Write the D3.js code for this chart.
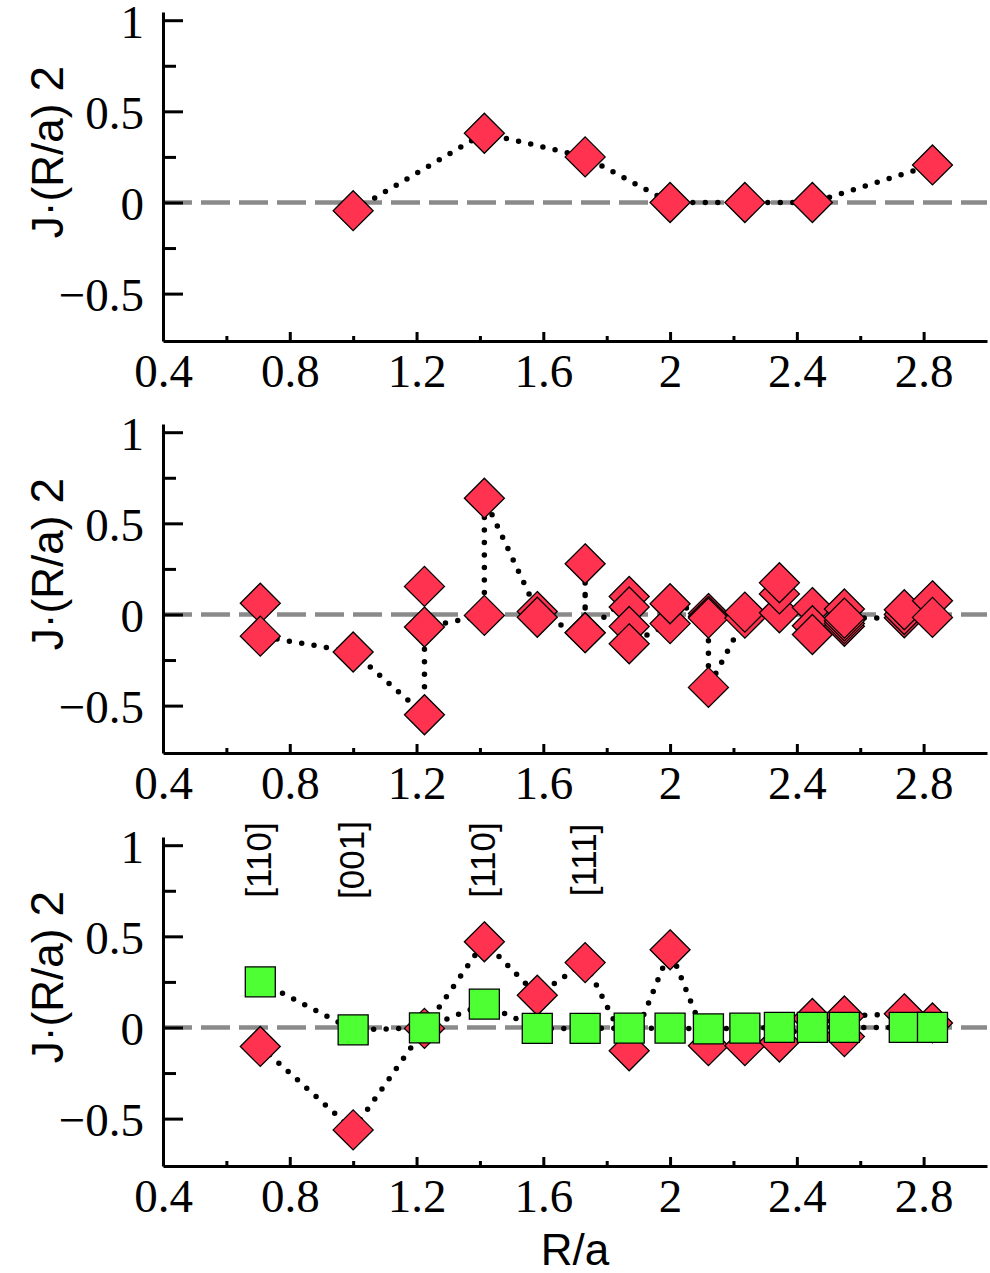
<!DOCTYPE html>
<html>
<head>
<meta charset="utf-8">
<script src="https://d3js.org/d3.v7.min.js"></script>
<style>
  body { margin: 0; background: #fff; }
</style>
</head>
<body>
<svg id="chart" width="990" height="1273"></svg>
<script>
// axis ticks
var xTicks = [0.4, 0.8, 1.2, 1.6, 2, 2.4, 2.8]
var xMinorTicks = [0.6, 1.0, 1.4, 1.8, 2.2, 2.6]
var yTicks = [-0.5, 0, 0.5, 1]
var yMinorTicks = [-0.25, 0.25, 0.75]

// top panel
var topR = [1, 1.414, 1.732, 2, 2.236, 2.449, 2.828]
var topJ = [-0.045, 0.38, 0.25, 0, 0, 0, 0.206]

// middle panel, in the order the dotted line runs through them
var midR = [0.707, 0.707, 1, 1.225, 1.225, 1.225, 1.414, 1.414, 1.581, 1.581,
            1.732, 1.732, 1.732, 1.871, 1.871, 1.871, 1.871, 2, 2,
            2.121, 2.121, 2.121, 2.121, 2.236, 2.236, 2.345, 2.345, 2.345,
            2.449, 2.449, 2.449, 2.55, 2.55, 2.55, 2.55, 2.55,
            2.739, 2.739, 2.739, 2.828, 2.828]
var midJ = [0.062, -0.119, -0.206, -0.55, 0.154, -0.069, -0.005, 0.638, 0.016, -0.015,
            -0.1, 0.278, -0.1, 0.099, 0.041, -0.066, -0.161, -0.05, 0.059,
            0.005, -0.01, -0.02, -0.4, -0.02, 0.013, 0.009, 0.113, 0.174,
            0.038, -0.062, -0.11, 0.03, -0.065, -0.05, -0.035, -0.02,
            -0.018, 0.0, 0.026, 0.075, -0.016]

// bottom panel
var redR = [0.707, 1, 1.225, 1.414, 1.581, 1.732, 1.871, 2, 2.121, 2.236, 2.345, 2.449, 2.55, 2.55, 2.739, 2.828]
var redJ = [-0.104, -0.562, -0.005, 0.47, 0.177, 0.356, -0.128, 0.426, -0.1, -0.1, -0.08, 0.049, -0.05, 0.063, 0.075, 0.025]
var greenR = [0.707, 1, 1.225, 1.414, 1.581, 1.732, 1.871, 2, 2.121, 2.236, 2.345, 2.449, 2.55, 2.739, 2.828]
var greenJ = [0.25, -0.013, -0.002, 0.128, -0.005, -0.005, -0.004, -0.004, -0.008, -0.004, 0, 0, 0, 0, 0]

var dirLabels = ["[110]", "[001]", "[110]", "[111]"]
var dirR = [0.707, 1, 1.414, 1.732]

var svg = d3.select("#chart")
svg.append("rect").attr("width", 990).attr("height", 1273).attr("fill", "#fff")

var x = d3.scaleLinear().domain([0.4, 3.0]).range([163, 987])
var panelOffsets = [0, 412, 825]

var serif = "'Liberation Serif', 'Times New Roman', serif"
var sans = "'Liberation Sans', Arial, sans-serif"

var diamond = {
  draw: function (ctx, size) {
    var r = Math.sqrt(size / 2)
    ctx.moveTo(0, -r); ctx.lineTo(r, 0); ctx.lineTo(0, r); ctx.lineTo(-r, 0); ctx.closePath()
  }
}

function fmt(d) { return String(d).replace("-", "\u2212") }

function makePanel(off) {
  var y = d3.scaleLinear().domain([-0.76, 1.045]).range([341 + off, 12 + off])
  var g = svg.append("g")

  // zero line
  g.append("line")
    .attr("x1", x(0.4)).attr("x2", x(3.0))
    .attr("y1", y(0)).attr("y2", y(0))
    .attr("stroke", "#8a8a8a").attr("stroke-width", 4.5)
    .attr("stroke-dasharray", "29,9")

  var ay = g.append("g").attr("transform", "translate(" + x(0.4) + ",0)")
    .call(d3.axisLeft(y).tickValues(yTicks).tickSizeInner(-20).tickSizeOuter(0).tickPadding(19).tickFormat(fmt))
  ay.selectAll("text").attr("font-family", serif).attr("font-size", 47).attr("fill", "#000").attr("dy", "0.36em")
  g.append("g").attr("transform", "translate(" + x(0.4) + ",0)")
    .call(d3.axisLeft(y).tickValues(yMinorTicks).tickSizeInner(-13).tickSizeOuter(0).tickFormat(""))
    .select(".domain").remove()

  var ax = g.append("g").attr("transform", "translate(0," + y.range()[0] + ")")
    .call(d3.axisBottom(x).tickValues(xTicks).tickSizeInner(-9).tickSizeOuter(0).tickPadding(12.5).tickFormat(fmt))
  ax.selectAll("text").attr("font-family", serif).attr("font-size", 47).attr("fill", "#000")
  g.append("g").attr("transform", "translate(0," + y.range()[0] + ")")
    .call(d3.axisBottom(x).tickValues(xMinorTicks).tickSizeInner(-5).tickSizeOuter(0).tickFormat(""))
    .select(".domain").remove()

  g.selectAll(".domain, .tick line").attr("stroke", "#000").attr("stroke-width", 3)

  // y label
  var lab = g.append("text")
    .attr("transform", "translate(63," + (152 + off) + ") rotate(-90)")
    .attr("text-anchor", "middle")
    .attr("font-family", sans).attr("font-size", 44)
    .text("J\u00b7(R/a) ")
  lab.append("tspan").attr("font-size", 46).text("2")

  return { g: g, y: y }
}

function dotted(g, y, rs, js) {
  var pts = rs.map(function (r, i) { return [r, js[i]] })
  g.append("path")
    .datum(pts)
    .attr("fill", "none")
    .attr("stroke", "#000")
    .attr("stroke-width", 5.5)
    .attr("stroke-linecap", "round")
    .attr("stroke-dasharray", "0,12.5")
    .attr("d", d3.line().x(function (d) { return x(d[0]) }).y(function (d) { return y(d[1]) }))
}

function markers(g, y, rs, js, type, size, fill) {
  var pts = rs.map(function (r, i) { return [r, js[i]] })
  g.append("g").selectAll("path").data(pts).enter().append("path")
    .attr("transform", function (d) { return "translate(" + x(d[0]) + "," + y(d[1]) + ")" })
    .attr("d", d3.symbol().type(type).size(size))
    .attr("fill", fill)
    .attr("stroke", "#000")
    .attr("stroke-width", 1.3)
}

var red = "#ff3350"
var green = "#4dff33"

var p1 = makePanel(panelOffsets[0])
dotted(p1.g, p1.y, topR, topJ)
markers(p1.g, p1.y, topR, topJ, diamond, 800, red)

var p2 = makePanel(panelOffsets[1])
dotted(p2.g, p2.y, midR, midJ)
markers(p2.g, p2.y, midR, midJ, diamond, 800, red)

var p3 = makePanel(panelOffsets[2])
dotted(p3.g, p3.y, redR, redJ)
dotted(p3.g, p3.y, greenR, greenJ)
markers(p3.g, p3.y, redR, redJ, diamond, 800, red)
markers(p3.g, p3.y, greenR, greenJ, d3.symbolSquare, 900, green)

p3.g.selectAll(".dir").data(dirLabels).enter().append("text")
  .attr("class", "dir")
  .attr("transform", function (d, i) { return "translate(" + (x(dirR[i]) + 11) + ",860) rotate(-90)" })
  .attr("text-anchor", "middle")
  .attr("font-family", sans).attr("font-size", 35)
  .text(function (d) { return d })

svg.append("text")
  .attr("x", 575).attr("y", 1265)
  .attr("text-anchor", "middle")
  .attr("font-family", sans).attr("font-size", 44)
  .text("R/a")
</script>
</body>
</html>
